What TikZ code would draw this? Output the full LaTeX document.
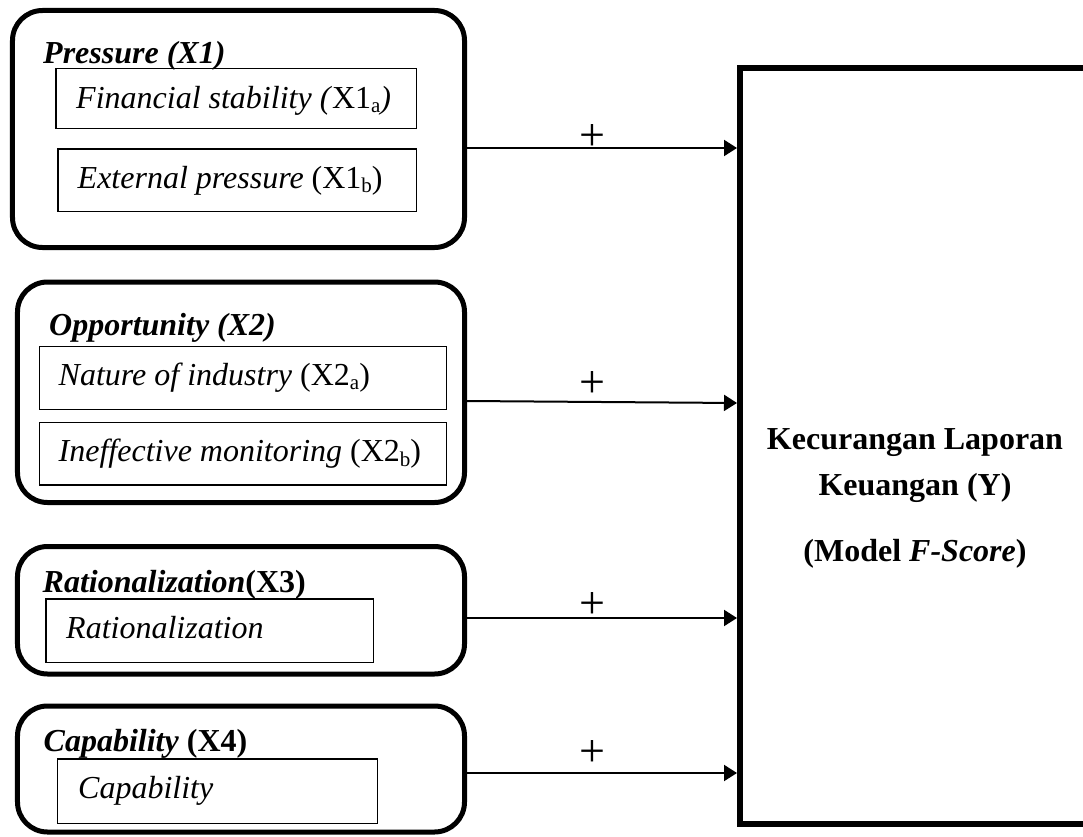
\documentclass[tikz,border=0pt]{standalone}
\usepackage{fontspec}
\setmainfont{Liberation Serif}
\usetikzlibrary{arrows.meta}
\newcommand\mysub[1]{\raisebox{-4.5bp}{\fontsize{21bp}{21bp}\selectfont\upshape #1}}
\begin{document}
\begin{tikzpicture}[x=1bp,y=-1bp,
  txt/.style={font=\fontsize{32bp}{38bp}\selectfont, inner sep=0pt, anchor=base west},
  ttl/.style={txt, font=\fontsize{32bp}{38bp}\selectfont\bfseries},
  outerbox/.style={draw, line width=5bp, rounded corners=30bp, inner sep=0pt, anchor=center},
  innerbox/.style={draw, line width=1.3bp, inner sep=0pt, anchor=center},
  bigbox/.style={draw, line width=6bp, inner sep=0pt, anchor=center},
  plussign/.style={font=\fontsize{46bp}{50bp}\selectfont, inner sep=0pt, anchor=center},
  arr/.style={line width=2bp, -{Triangle[length=13bp,width=16bp]}}
]
\clip (0,0) rectangle (1083,837);
\fill[white] (0,0) rectangle (1083,837);

% outer rounded boxes
\node[outerbox, minimum width=452bp, minimum height=237bp] (b1) at (238.5,129) {};
\node[outerbox, minimum width=447bp, minimum height=220.5bp] (b2) at (241,392.25) {};
\node[outerbox, minimum width=447bp, minimum height=127.5bp] (b3) at (241,610.25) {};
\node[outerbox, minimum width=447bp, minimum height=126bp] (b4) at (241,769) {};

% inner boxes
\node[innerbox, minimum width=360.7bp, minimum height=60bp] (i1a) at (236.35,98.3) {};
\node[innerbox, minimum width=358.7bp, minimum height=62.7bp] (i1b) at (237.35,180.35) {};
\node[innerbox, minimum width=407.4bp, minimum height=62.6bp] (i2a) at (243,378) {};
\node[innerbox, minimum width=407.4bp, minimum height=62.3bp] (i2b) at (243,453.85) {};
\node[innerbox, minimum width=327.3bp, minimum height=63.7bp] (i3) at (209.65,630.85) {};
\node[innerbox, minimum width=319.6bp, minimum height=64.3bp] (i4) at (217.5,791.15) {};

% big box
\node[bigbox, minimum width=370bp, minimum height=756bp] (Y) at (925,446) {};

% titles
\node[ttl] (t1) at (43,63.3) {\itshape Pressure (X1)};
\node[ttl] (t2) at (49,335) {\itshape Opportunity (X2)};
\node[ttl] (t3) at (42.5,592.7) {\textit{Rationalization}(X3)};
\node[ttl] (t4) at (43.5,751.7) {\textit{Capability} (X4)};

% inner texts
\node[txt] (x1a) at (76,108.3) {\textit{Financial stability (}X1\mysub{a}\textit{)}};
\node[txt] (x1b) at (77.5,188.3) {\textit{External pressure} (X1\mysub{b})};
\node[txt] (x2a) at (58.5,385) {\textit{Nature of industry} (X2\mysub{a})};
\node[txt] (x2b) at (58.5,461.7) {\textit{Ineffective monitoring} (X2\mysub{b})};
\node[txt] (x3) at (66,638.3) {\textit{Rationalization}};
\node[txt] (x4) at (78,798.3) {\textit{Capability}};

% big box text
\node[ttl, anchor=base] (y1) at (915,449) {Kecurangan Laporan};
\node[ttl, anchor=base] (y2) at (915,495) {Keuangan (Y)};
\node[ttl, anchor=base] (y3) at (915,561.7) {(Model \textit{F-Score})};

% arrows
\draw[arr] (b1.east |- 0,148) -- (Y.west |- 0,148);
\draw[arr] (b2.east |- 0,401) -- (Y.west |- 0,403);
\draw[arr] (b3.east |- 0,618) -- (Y.west |- 0,618);
\draw[arr] (b4.east |- 0,773) -- (Y.west |- 0,773);

% plus signs
\node[plussign] (p1) at (592,138) {+};
\node[plussign] (p2) at (592,385) {+};
\node[plussign] (p3) at (592,605) {+};
\node[plussign] (p4) at (592,753) {+};
\end{tikzpicture}
\end{document}
